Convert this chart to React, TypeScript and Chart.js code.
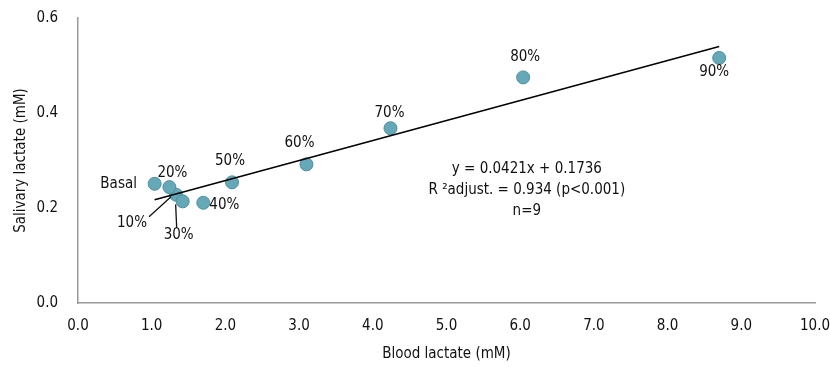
import React, { useEffect, useRef } from "react";
import { Chart, registerables } from "chart.js";

Chart.register(...registerables);

const stageLabels = ["Basal", "10%", "20%", "30%", "40%", "50%", "60%", "70%", "80%", "90%"];
const bloodLactate = [1.04, 1.33, 1.24, 1.42, 1.70, 2.09, 3.10, 4.24, 6.04, 8.70];
const salivaryLactate = [0.251, 0.228, 0.244, 0.214, 0.211, 0.254, 0.292, 0.368, 0.475, 0.516];
const slope = 0.0421;
const intercept = 0.1736;
const trendRange = [1.04, 8.70];
const annotationLines = ["y = 0.0421x + 0.1736", "R \u00B2adjust. = 0.934 (p<0.001)", "n=9"];
const annotationAt = { x: 6.09, y: 0.281 };

const FONT = "'DejaVu Sans Condensed', 'Liberation Sans Narrow', 'Noto Sans', sans-serif";

// label offsets in px relative to point (style only)
const labelOffsets: Record<string, { dx: number; dy: number }> = {
  Basal: { dx: -36, dy: 0 },
  "10%": { dx: -44, dy: 28 },
  "20%": { dx: 3, dy: -14 },
  "30%": { dx: -4, dy: 34 },
  "40%": { dx: 21, dy: 2 },
  "50%": { dx: -2, dy: -21 },
  "60%": { dx: -7, dy: -21 },
  "70%": { dx: -1, dy: -15 },
  "80%": { dx: 2, dy: -20 },
  "90%": { dx: -5, dy: 14 },
};

const labelPlugin = {
  id: "pointLabels",
  afterDatasetsDraw(chart: any) {
    const ctx = chart.ctx;
    const meta = chart.getDatasetMeta(1);
    ctx.save();
    ctx.font = `15px ${FONT}`;
    ctx.fillStyle = "#111";
    ctx.textAlign = "center";
    ctx.textBaseline = "middle";
    meta.data.forEach((pt: any, i: number) => {
      const lab = stageLabels[i];
      const o = labelOffsets[lab];
      const tx = pt.x + o.dx;
      const ty = pt.y + o.dy;
      if (lab === "10%" || lab === "30%") {
        ctx.strokeStyle = "#111";
        ctx.lineWidth = 1.3;
        ctx.beginPath();
        if (lab === "10%") {
          ctx.moveTo(tx + 17, ty - 6);
          ctx.lineTo(pt.x - 5, pt.y + 2);
        } else {
          ctx.moveTo(tx - 2, ty - 8);
          ctx.lineTo(pt.x - 7, pt.y + 3);
        }
        ctx.stroke();
      }
      ctx.fillText(lab, tx, ty);
    });
    const xs = chart.scales.x;
    const ys = chart.scales.y;
    const ax = xs.getPixelForValue(annotationAt.x);
    const ay = ys.getPixelForValue(annotationAt.y);
    annotationLines.forEach((l, i) => {
      ctx.fillText(l, ax, ay + i * 21);
    });
    ctx.restore();
  },
};

export default function App() {
  const ref = useRef<HTMLCanvasElement>(null);
  useEffect(() => {
    if (!ref.current) return;
    const chart = new Chart(ref.current, {
      type: "scatter",
      data: {
        datasets: [
          {
            type: "line",
            data: trendRange.map((x) => ({ x, y: slope * x + intercept })),
            borderColor: "#000",
            borderWidth: 1.5,
            pointRadius: 0,
            fill: false,
          } as any,
          {
            data: bloodLactate.map((x, i) => ({ x, y: salivaryLactate[i] })),
            backgroundColor: "#65A8B8",
            borderColor: "#4F8E9E",
            borderWidth: 1,
            pointRadius: 6.5,
          },
        ],
      },
      options: {
        animation: false,
        responsive: false,
        layout: { padding: { top: 18, right: 15, left: 0, bottom: 0 } },
        plugins: { legend: { display: false }, tooltip: { enabled: false } },
        scales: {
          x: {
            type: "linear",
            min: 0,
            max: 10,
            afterFit: (s: any) => {
              s.height = 64;
              s.paddingRight = 0;
              s.paddingLeft = 0;
            },
            ticks: {
              stepSize: 1,
              color: "#111",
              font: { family: FONT, size: 15 },
              padding: 9,
              maxRotation: 0,
              callback: (v: any) => Number(v).toFixed(1),
            },
            grid: { display: false, drawTicks: true, tickLength: 5, tickColor: "#999" } as any,
            border: { color: "#999", width: 1.5 },
            title: {
              display: true,
              text: "Blood lactate (mM)",
              color: "#111",
              font: { family: FONT, size: 15 },
              padding: { top: 4, bottom: 4 },
            },
          },
          y: {
            type: "linear",
            min: 0,
            max: 0.6,
            afterFit: (s: any) => {
              s.width = 78;
              s.paddingTop = 0;
              s.paddingBottom = 0;
            },
            ticks: {
              stepSize: 0.2,
              color: "#111",
              font: { family: FONT, size: 15 },
              padding: 15,
              callback: (v: any) => Number(v).toFixed(1),
            },
            grid: { display: false, drawTicks: true, tickLength: 5, tickColor: "#999" } as any,
            border: { color: "#999", width: 1.5 },
            title: {
              display: true,
              text: "Salivary lactate (mM)",
              color: "#111",
              font: { family: FONT, size: 15 },
              padding: { top: 12, bottom: 0 },
            },
          },
        },
      },
      plugins: [labelPlugin],
    });
    return () => chart.destroy();
  }, []);
  return (
    <div style={{ position: "fixed", left: 0, top: 0, width: 830, height: 367, background: "#fff" }}>
      <canvas ref={ref} width={830} height={367} />
    </div>
  );
}
